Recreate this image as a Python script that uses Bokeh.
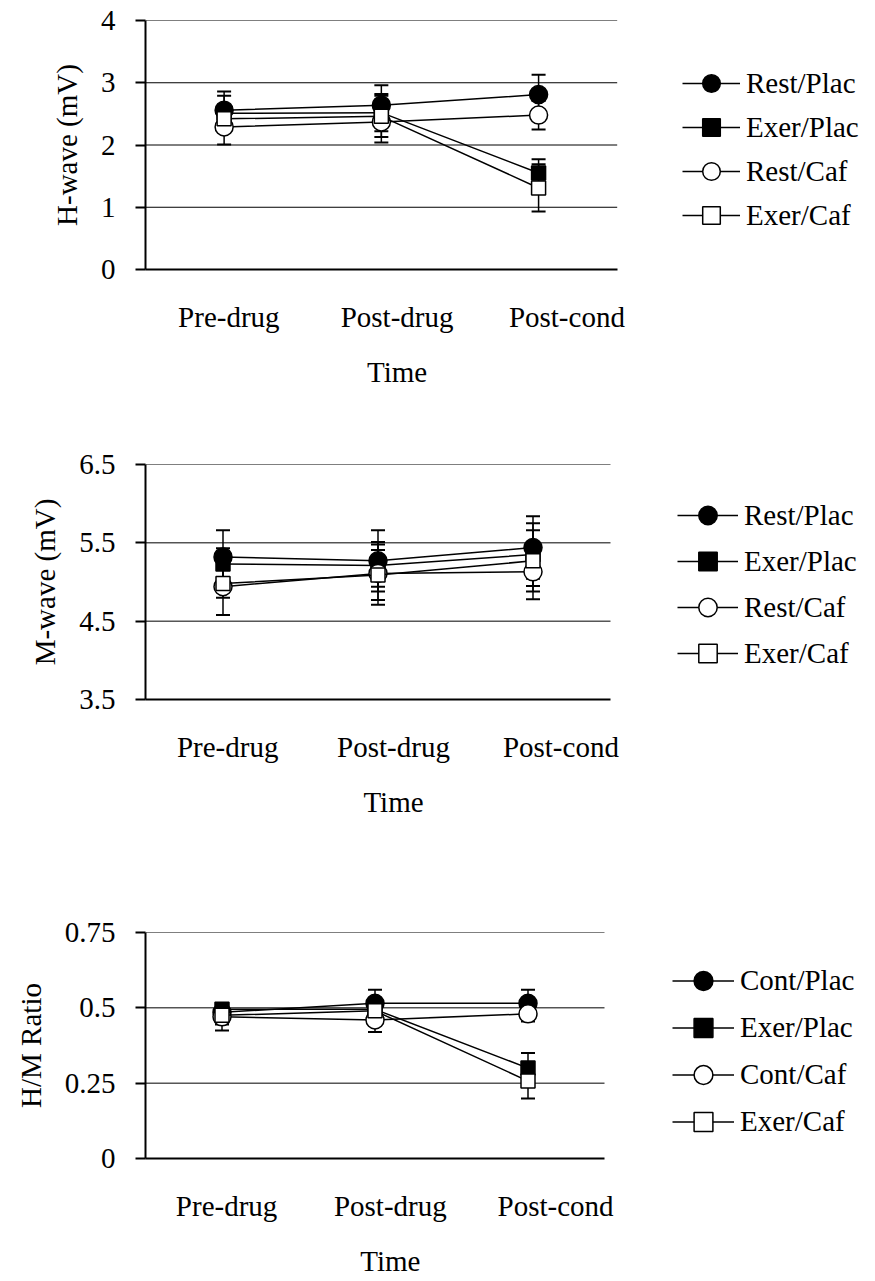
from bokeh.plotting import figure
from bokeh.models import (Range1d, FixedTicker, CustomJSTickFormatter, Legend, LegendItem,
                          Whisker, ColumnDataSource, TeeHead, LinearAxis)
from bokeh.layouts import column
from bokeh.embed import file_html
from bokeh.resources import INLINE

# ---------------- data ----------------
times = ["Pre-drug", "Post-drug", "Post-cond"]
x_title = "Time"

# Panel 1: H-wave (mV)
h_names = ["Rest/Plac", "Exer/Plac", "Rest/Caf", "Exer/Caf"]
h_rest_plac = [2.56, 2.64, 2.81]
h_rest_plac_err = [0.30, 0.32, 0.32]
h_exer_plac = [2.51, 2.52, 1.55]
h_exer_plac_err = [0.28, 0.30, 0.22]
h_rest_caf = [2.29, 2.37, 2.48]
h_rest_caf_err = [0.28, 0.33, 0.23]
h_exer_caf = [2.42, 2.46, 1.31]
h_exer_caf_err = [0.20, 0.33, 0.38]
h_ticks = [0, 1, 2, 3, 4]

# Panel 2: M-wave (mV)
m_names = ["Rest/Plac", "Exer/Plac", "Rest/Caf", "Exer/Caf"]
m_rest_plac = [5.32, 5.27, 5.44]
m_rest_plac_err = [0.34, 0.39, 0.40]
m_exer_plac = [5.23, 5.21, 5.35]
m_exer_plac_err = [0.20, 0.27, 0.40]
m_rest_caf = [4.94, 5.11, 5.13]
m_rest_caf_err = [0.36, 0.40, 0.35]
m_exer_caf = [4.98, 5.09, 5.27]
m_exer_caf_err = [0.18, 0.32, 0.39]
m_ticks = [3.5, 4.5, 5.5, 6.5]

# Panel 3: H/M ratio
r_names = ["Cont/Plac", "Exer/Plac", "Cont/Caf", "Exer/Caf"]
r_cont_plac = [0.485, 0.515, 0.515]
r_cont_plac_err = [0.030, 0.045, 0.045]
r_exer_plac = [0.495, 0.495, 0.300]
r_exer_plac_err = [0.020, 0.030, 0.050]
r_cont_caf = [0.470, 0.460, 0.480]
r_cont_caf_err = [0.045, 0.040, 0.025]
r_exer_caf = [0.475, 0.490, 0.257]
r_exer_caf_err = [0.030, 0.030, 0.058]
r_ticks = [0, 0.25, 0.5, 0.75]

# ---------------- style ----------------
FONT = "Liberation Serif"
FS = "29px"
LEFT = 145
label_shift = [0.03, 0.10, 0.18]   # visual offset of category labels
title_shift = 0.10                 # visual offset of the "Time" title
marker_styles = [
    dict(marker="circle", size=18, fill_color="black"),
    dict(marker="square", size=14, fill_color="black"),
    dict(marker="circle", size=18, fill_color="white"),
    dict(marker="square", size=14, fill_color="white"),
]


def style_axis(ax):
    ax.axis_line_color = "black"
    ax.axis_line_width = 2
    ax.major_tick_line_color = "black"
    ax.major_tick_line_width = 2
    ax.minor_tick_out = 0
    ax.minor_tick_in = 0
    ax.major_label_text_font = FONT
    ax.major_label_text_font_size = FS
    ax.major_label_text_color = "black"
    ax.axis_label_text_font = FONT
    ax.axis_label_text_font_size = FS
    ax.axis_label_text_font_style = "normal"
    ax.axis_label_text_color = "black"


def make_panel(names, series, errors, yrange, ticks, ylabel, height, top, bottom,
               plot_w, legend_loc, glyph_w, glyph_h):
    n = len(times)
    frame_w = 875 - LEFT
    p = figure(width=875, height=height, output_backend="svg", toolbar_location=None,
               x_range=Range1d(0, n * frame_w / plot_w), y_range=Range1d(*yrange),
               min_border_top=top, min_border_bottom=bottom,
               min_border_left=LEFT, min_border_right=0)
    p.outline_line_color = None
    p.background_fill_color = "white"
    p.border_fill_color = "white"

    xs = [i + 0.5 for i in range(n)]

    # category axis
    xa = p.xaxis[0]
    style_axis(xa)
    xa.ticker = FixedTicker(ticks=[xs[i] + label_shift[i] for i in range(n)])
    xa.formatter = CustomJSTickFormatter(args=dict(names=times),
                                         code="return names[Math.floor(tick)];")
    xa.bounds = (0, n)
    xa.major_tick_out = 0
    xa.major_tick_in = 0
    xa.major_label_standoff = 31

    # "Time" title under the plot area, as a second (line-less) axis
    ta = LinearAxis(ticker=FixedTicker(ticks=[n / 2 + title_shift]),
                    formatter=CustomJSTickFormatter(args=dict(t=x_title), code="return t;"))
    style_axis(ta)
    ta.axis_line_color = None
    ta.major_tick_line_color = None
    ta.major_tick_out = 0
    ta.major_tick_in = 0
    ta.major_label_standoff = 20
    p.add_layout(ta, "below")

    ya = p.yaxis[0]
    style_axis(ya)
    ya.ticker = FixedTicker(ticks=ticks)
    ya.formatter = CustomJSTickFormatter(code="return String(Math.round(tick*100)/100);")
    ya.major_tick_out = 10
    ya.major_tick_in = 0
    ya.major_label_standoff = 20
    ya.axis_label = ylabel
    ya.axis_label_standoff = 15

    p.xgrid.visible = False
    p.ygrid.visible = False
    gl = [t for t in ticks if t != yrange[0]]
    p.segment(x0=[0] * len(gl), x1=[n] * len(gl), y0=gl, y1=gl,
              line_color="black", line_width=1, level="underlay")

    items = []
    for name, ys, es, ms in zip(names, series, errors, marker_styles):
        src = ColumnDataSource(dict(x=xs, y=ys,
                                    upper=[y + e for y, e in zip(ys, es)],
                                    lower=[y - e for y, e in zip(ys, es)]))
        w = Whisker(base="x", upper="upper", lower="lower", source=src, dimension="height",
                    line_color="black", line_width=1.5, level="underlay",
                    upper_head=TeeHead(size=14, line_width=2, line_color="black"),
                    lower_head=TeeHead(size=14, line_width=2, line_color="black"))
        p.add_layout(w)
        lr = p.line("x", "y", source=src, line_color="black", line_width=1.5)
        mr = p.scatter("x", "y", source=src, marker=ms["marker"], size=ms["size"],
                       fill_color=ms["fill_color"], line_color="black", line_width=1.5)
        items.append(LegendItem(label=name, renderers=[lr, mr]))

    leg = Legend(items=items, location=legend_loc, orientation="vertical",
                 glyph_width=glyph_w, glyph_height=glyph_h, label_height=20,
                 label_standoff=6, spacing=0, padding=0, margin=0,
                 border_line_alpha=0, background_fill_alpha=0,
                 label_text_font=FONT, label_text_font_size=FS, label_text_color="black")
    p.add_layout(leg)
    return p


p1 = make_panel(h_names,
                [h_rest_plac, h_exer_plac, h_rest_caf, h_exer_caf],
                [h_rest_plac_err, h_exer_plac_err, h_rest_caf_err, h_exer_caf_err],
                (0, 4), h_ticks, "H-wave (mV)", 430, 20, 161, 471.7, (537, 32), 58, 44)
p2 = make_panel(m_names,
                [m_rest_plac, m_exer_plac, m_rest_caf, m_exer_caf],
                [m_rest_plac_err, m_exer_plac_err, m_rest_caf_err, m_exer_caf_err],
                (3.5, 6.5), m_ticks, "M-wave (mV)", 430, 34, 161, 465, (532, 23), 61, 46)
p3 = make_panel(r_names,
                [r_cont_plac, r_exer_plac, r_cont_caf, r_exer_caf],
                [r_cont_plac_err, r_exer_plac_err, r_cont_caf_err, r_exer_caf_err],
                (0, 0.75), r_ticks, "H/M Ratio", 421, 72, 123, 459, (527, 13), 62, 47)

layout = column(p1, p2, p3, spacing=0)
open("out.html", "w").write(file_html(layout, INLINE))
